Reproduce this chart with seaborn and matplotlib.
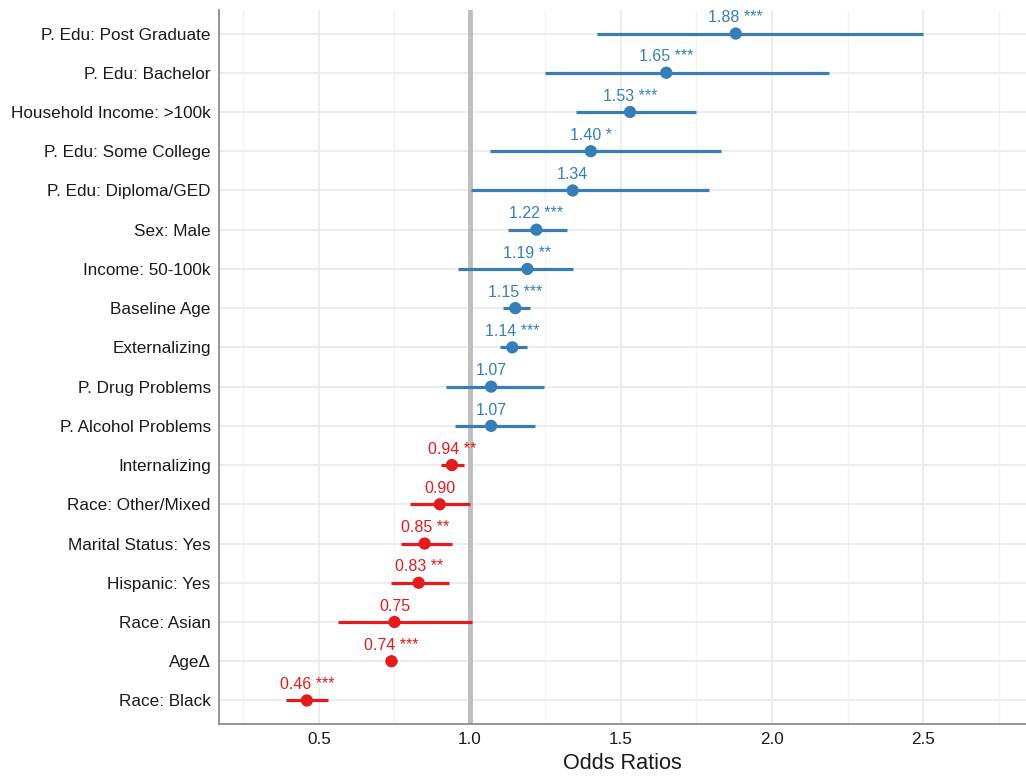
import numpy as np
import pandas as pd
import matplotlib
matplotlib.use("Agg")
import matplotlib.pyplot as plt
import seaborn as sns

terms = ["P. Edu: Post Graduate", "P. Edu: Bachelor", "Household Income: >100k",
         "P. Edu: Some College", "P. Edu: Diploma/GED", "Sex: Male", "Income: 50-100k",
         "Baseline Age", "Externalizing", "P. Drug Problems", "P. Alcohol Problems",
         "Internalizing", "Race: Other/Mixed", "Marital Status: Yes", "Hispanic: Yes",
         "Race: Asian", "Age\u0394", "Race: Black"]
odds = [1.88, 1.65, 1.53, 1.40, 1.34, 1.22, 1.19, 1.15, 1.14, 1.07, 1.07,
        0.94, 0.90, 0.85, 0.83, 0.75, 0.74, 0.46]
ci_low = [1.42, 1.25, 1.35, 1.066, 1.003, 1.126, 0.96, 1.11, 1.10, 0.92, 0.95,
          0.904, 0.80, 0.77, 0.74, 0.563, 0.725, 0.39]
ci_high = [2.50, 2.19, 1.75, 1.83, 1.79, 1.32, 1.34, 1.20, 1.19, 1.245, 1.215,
           0.98, 1.00, 0.94, 0.93, 1.007, 0.76, 0.53]
stars = ["***", "***", "***", "*", "", "***", "**", "***", "***", "", "",
         "**", "", "**", "**", "", "***", "***"]

sns.set_theme(style="whitegrid")
plt.rcParams['font.family'] = ['Liberation Sans', 'DejaVu Sans']

n = len(terms)
df = pd.DataFrame({"term": terms, "or": odds, "lo": ci_low, "hi": ci_high, "sig": stars})
df["pos"] = n - 1 - np.arange(n)
df["dir"] = np.where(df["or"] >= 1, "pos", "neg")
palette = {"pos": "#377EB8", "neg": "#E41A1C"}

fig = plt.figure(figsize=(10.26, 7.78), dpi=100)
ax = fig.add_axes([219/1026, 54/778, 1 - 219/1026, (724-10)/778])

ax.axvline(1.0, color="#BEBEBE", lw=3.5, zorder=1)
for _, r in df.iterrows():
    ax.hlines(r["pos"], r["lo"], r["hi"], color=palette[r["dir"]], lw=2.3, zorder=2)
sns.scatterplot(data=df, x="or", y="pos", hue="dir", palette=palette, s=78,
                edgecolor="none", legend=False, ax=ax, zorder=3)
for _, r in df.iterrows():
    lab = f"{r['or']:.2f}" + (f" {r['sig']}" if r["sig"] else "")
    ax.annotate(lab, (r["or"], r["pos"]), xytext=(0, 6), textcoords="offset points",
                ha="center", va="bottom", color=palette[r["dir"]], fontsize=11.5)

ax.set_xlim(0.169, 2.841)
ax.set_ylim(-0.6, n - 1 + 0.6)
ax.set_yticks(df["pos"])
ax.set_yticklabels(df["term"], fontsize=12.3, color="#1a1a1a")
ax.set_xticks([0.5, 1.0, 1.5, 2.0, 2.5])
ax.set_xticklabels(["0.5", "1.0", "1.5", "2.0", "2.5"], fontsize=12.3, color="#1a1a1a")
ax.set_xticks([0.25, 0.75, 1.25, 1.75, 2.25, 2.75], minor=True)
ax.grid(True, which="major", color="#EBEBEB", lw=1.3)
ax.grid(True, which="minor", axis="x", color="#F2F2F2", lw=1.0)
ax.tick_params(axis="both", which="both", length=0, pad=6)
ax.set_xlabel("Odds Ratios", fontsize=15.6, color="#1a1a1a", labelpad=4)
ax.set_ylabel("")
for s in ["top", "right"]:
    ax.spines[s].set_visible(False)
for s in ["left", "bottom"]:
    ax.spines[s].set_visible(True)
    ax.spines[s].set_color("#8C8C8C")
    ax.spines[s].set_linewidth(1.3)

fig.savefig("out.png", dpi=100)
